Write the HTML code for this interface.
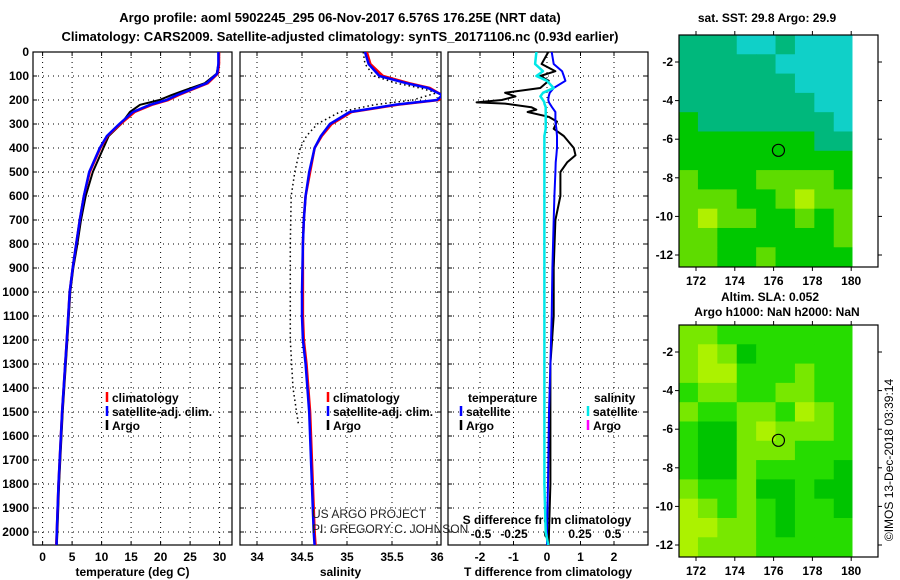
<!DOCTYPE html>
<html><head><meta charset="utf-8">
<style>
html,body{margin:0;padding:0;background:#fff;}
svg{display:block;font-family:"Liberation Sans",sans-serif;}
.t{font-size:12px;font-weight:bold;}
.ti{font-size:13px;font-weight:bold;}
</style></head>
<body>
<svg id="fig" width="900" height="580" viewBox="0 0 900 580">
<text class="ti" x="340" y="22" text-anchor="middle">Argo profile: aoml 5902245_295 06-Nov-2017 6.576S 176.25E (NRT data)</text>
<text class="ti" x="340" y="41" text-anchor="middle">Climatology: CARS2009. Satellite-adjusted climatology: synTS_20171106.nc (0.93d earlier)</text>
<text class="t" x="767" y="22" text-anchor="middle">sat. SST: 29.8 Argo: 29.9</text>
<text class="t" x="770" y="301" text-anchor="middle">Altim. SLA: 0.052</text>
<text class="t" x="777" y="316" text-anchor="middle">Argo h1000: NaN h2000: NaN</text>
<text x="893" y="460" font-size="12" transform="rotate(-90 893 460)" text-anchor="middle">©IMOS 13-Dec-2018 03:39:14</text>
</svg>
<script>
// ---------- data ----------
const depths = [0,50,90,130,160,180,200,220,250,300,350,400,500,600,700,800,900,1000,1200,1500,1800,2000,2055];
const tempClim = [29.9,29.9,29.7,28.0,25.0,23.0,21.3,18.5,15.6,13.2,11.0,9.8,8.0,7.0,6.3,5.7,5.1,4.6,4.1,3.3,2.7,2.4,2.3];
const tempSat  = [29.8,29.8,29.6,27.8,24.8,22.7,21.0,18.2,15.3,13.0,10.9,9.7,7.9,7.0,6.3,5.7,5.1,4.6,4.1,3.3,2.7,2.4,2.35];
const tempArgo = [29.9,29.8,29.5,27.5,24.0,21.8,19.8,16.5,14.8,13.3,11.2,10.3,8.5,7.3,6.5,5.9,5.2,4.7,4.2,3.4,2.8,2.5,2.4];
const salDepths = [0,50,100,130,150,180,200,220,250,300,350,400,500,600,700,800,1000,1100,1200,1300,1400,1500,2000,2055];
const salClim = [35.22,35.26,35.40,35.69,35.92,36.06,36.02,35.56,35.05,34.83,34.72,34.64,34.59,34.54,34.52,34.51,34.51,34.51,34.52,34.55,34.57,34.59,34.64,34.65];
const salSat  = [35.20,35.24,35.36,35.66,35.90,36.06,36.00,35.53,35.03,34.81,34.71,34.64,34.58,34.54,34.52,34.51,34.50,34.50,34.51,34.54,34.56,34.58,34.63,34.64];
const salOldDepths = [0,50,100,130,150,170,200,220,250,300,350,400,500,600,800,1000,1200,1400,1500,1550];
const salOld = [35.18,35.20,35.30,35.55,35.81,36.0,35.73,35.30,34.92,34.67,34.55,34.48,34.42,34.38,34.37,34.37,34.37,34.40,34.44,34.46];
const diffDepths = [0,50,80,100,120,150,170,185,200,210,215,230,240,250,270,290,320,350,400,430,460,500,600,700,900,1100,1300,1500,1800,2000,2055];
const tDiffArgo = [0.04,-0.16,0.25,-0.2,0.05,-0.2,-1.25,-0.94,-1.35,-2.1,-1.25,-0.47,-0.32,-0.58,0.05,0.3,0.2,0.5,0.8,0.85,0.6,0.4,0.4,0.25,0.2,0.2,0.1,0.1,0.1,0.06,0.05];
const tDiffSat  = [0.14,0.2,0.45,0.5,0.55,0.2,0.08,0.05,0.04,0.06,0.08,0.15,0.2,0.25,0.25,0.25,0.28,0.3,0.3,0.28,0.26,0.25,0.22,0.2,0.16,0.14,0.1,0.06,0.03,0.0,0.0];
const sDiffSat  = [-0.08,-0.09,-0.03,-0.08,0.0,0.05,-0.03,-0.05,-0.03,-0.02,-0.02,-0.01,-0.01,-0.01,-0.01,-0.01,-0.01,-0.02,-0.02,-0.02,-0.02,-0.02,-0.02,-0.02,-0.02,-0.02,-0.02,-0.02,-0.02,-0.01,0.01];
const depthTicks = [0,100,200,300,400,500,600,700,800,900,1000,1100,1200,1300,1400,1500,1600,1700,1800,1900,2000];
const tempTicks = [0,5,10,15,20,25,30];
const salTicks = [34,34.5,35,35.5,36];
const tDiffTicks = [-2,-1,0,1,2];
const sDiffTicks = [-0.5,-0.25,0,0.25,0.5];
const lonTicks = [172,174,176,178,180];
const latTicks = [-2,-4,-6,-8,-10,-12];
const sstGrid = [
[1,1,1,0,0,1,0,0,0],
[1,1,1,1,1,0,0,0,0],
[1,1,1,1,1,1,0,0,0],
[1,1,1,1,1,1,1,0,0],
[2,1,1,1,1,1,1,1,0],
[2,2,2,2,2,2,2,1,1],
[2,2,2,2,2,2,2,2,2],
[3,2,2,2,3,3,3,3,2],
[3,3,3,2,2,3,4,3,3],
[3,4,3,3,2,2,3,2,3],
[3,3,2,2,2,2,2,2,3],
[3,3,2,2,3,2,2,2,2],
[4,3,4,2,2,3,3,3,2]];
const slaGrid = [
[2,2,1,1,1,1,1,1,1],
[2,3,2,0,1,1,1,1,1],
[2,3,3,1,1,1,2,1,1],
[1,2,2,1,1,2,2,1,1],
[2,1,1,2,2,1,3,2,1],
[1,0,0,2,3,2,2,2,1],
[1,0,0,2,2,2,1,1,1],
[1,0,0,2,1,1,1,1,0],
[2,1,1,2,0,0,1,0,0],
[3,2,1,2,1,0,1,1,0],
[3,3,2,2,1,0,1,1,1],
[3,2,2,2,1,1,1,1,1],
[3,2,2,2,1,1,1,1,1]];
const sstColors = ['#10d0c8','#00b87c','#00c800','#5edc00','#b0f000'];
const slaColors = ['#00c400','#26dc00','#78e800','#acf200'];
const floatLon = [176.25];
const floatLat = [-6.576];

// ---------- helpers ----------
const svg = document.getElementById('fig');
const NS = 'http://www.w3.org/2000/svg';
function mk(tag, attrs, parent){const e=document.createElementNS(NS,tag);for(const k in attrs)e.setAttribute(k,attrs[k]);(parent||svg).appendChild(e);return e;}
const TOP=52, BOT=545;
const yD = d => TOP + d*0.24;

function panel(x0,x1,xf,ticks,tickFmt,label,name){
  const g = mk('g',{});
  
  
  depthTicks.forEach(d=>{ const l=mk('line',{x1:x0,x2:x1,y1:yD(d),y2:yD(d),stroke:'#000','stroke-width':1,'stroke-dasharray':'1 4'},g);  
    mk('line',{x1:x0,x2:x0+4,y1:yD(d),y2:yD(d),stroke:'#000'},g); mk('line',{x1:x1-4,x2:x1,y1:yD(d),y2:yD(d),stroke:'#000'},g);});
  ticks.forEach(v=>{ const x=xf(v); const l=mk('line',{x1:x,x2:x,y1:TOP,y2:BOT,stroke:'#000','stroke-dasharray':'1 4'},g);  
    mk('line',{x1:x,x2:x,y1:BOT-4,y2:BOT,stroke:'#000'},g); mk('line',{x1:x,x2:x,y1:TOP,y2:TOP+4,stroke:'#000'},g);
    const t=mk('text',{x:x,y:561,'text-anchor':'middle','class':'t'},g); t.textContent=tickFmt(v);
     });
  const r=mk('rect',{x:x0,y:TOP,width:x1-x0,height:BOT-TOP,fill:'none',stroke:'#000','stroke-width':1.2},g);
   
  const tl=mk('text',{x:(x0+x1)/2,y:576,'text-anchor':'middle','class':'t'},g); tl.textContent=label;
   
  return g;
}
function line(xs,ds,xf,color,w,name,dash,clip){
  const pts = xs.map((v,i)=>xf(v).toFixed(1)+','+yD(ds[i]).toFixed(1)).join(' ');
  const p = mk('polyline',{points:pts,fill:'none',stroke:color,'stroke-width':w,'stroke-linejoin':'round'});
  if(dash) p.setAttribute('stroke-dasharray',dash);
  if(clip) p.setAttribute('clip-path',clip);
  
  
}
function legend(x,y,color,label,name){
  mk('line',{x1:x,x2:x,y1:y-10,y2:y,stroke:color,'stroke-width':2.5});
  const t=mk('text',{x:x+5,y:y,'class':'t'}); t.textContent=label;
  
  
}

// clip paths
const defs = mk('defs',{});
[['c1',33,232],['c2',240,441],['c3',448,648]].forEach(([id,a,b])=>{const c=mk('clipPath',{id:id},defs);mk('rect',{x:a,y:TOP,width:b-a,height:BOT-TOP},c);});

// depth axis labels
depthTicks.forEach(d=>{const t=mk('text',{x:29,y:yD(d)+4,'text-anchor':'end','class':'t'}); t.textContent=d;
   });

// Panel 1: temperature
const xT = v => 42.6 + v*5.9;
panel(33,232,xT,tempTicks,v=>v,'temperature (deg C)','temperature-panel');
line(tempArgo,depths,xT,'#000',2,'temp-argo-line',null,'url(#c1)');
line(tempClim,depths,xT,'#ff0000',2.5,'temp-climatology-line',null,'url(#c1)');
line(tempSat,depths,xT,'#0000ff',2.5,'temp-satellite-line',null,'url(#c1)');
legend(107,402,'#ff0000','climatology','legend-climatology');
legend(107,416,'#0000ff','satellite-adj. clim.','legend-satellite');
legend(107,430,'#000','Argo','legend-argo');

// Panel 2: salinity
const xS = v => 257 + (v-34)*90;
panel(240,441,xS,salTicks,v=>v,'salinity','salinity-panel');
line(salOld,salOldDepths,xS,'#000',1.5,'salinity-dotted-line','1.5 3','url(#c2)');
line(salClim,salDepths,xS,'#ff0000',2.5,'sal-climatology-line',null,'url(#c2)');
line(salSat,salDepths,xS,'#0000ff',2.5,'sal-satellite-line',null,'url(#c2)');
legend(328,402,'#ff0000','climatology','legend-sal-climatology');
legend(328,416,'#0000ff','satellite-adj. clim.','legend-sal-satellite');
legend(328,430,'#000','Argo','legend-sal-argo');

// Panel 3: differences
const xTD = v => 547 + v*33.5;
const xSD = v => 547 + v*132;
panel(448,648,xTD,tDiffTicks,v=>v,'T difference from climatology','difference-panel');
sDiffTicks.forEach(v=>{const t=mk('text',{x:xSD(v),y:538,'text-anchor':'middle','class':'t'}); t.textContent=v;
   });
const sdt=mk('text',{x:547,y:524,'text-anchor':'middle','class':'t'}); sdt.textContent='S difference from climatology';
 
line(tDiffArgo,diffDepths,xTD,'#000',2,'tdiff-argo-line',null,'url(#c3)');
line(tDiffSat,diffDepths,xTD,'#0000ff',2,'tdiff-satellite-line',null,'url(#c3)');
line(sDiffSat,diffDepths,xSD,'#00e8e8',2.5,'sdiff-satellite-line',null,'url(#c3)');
const lt=mk('text',{x:468,y:402,'class':'t'}); lt.textContent='temperature';
 
const ls=mk('text',{x:594,y:402,'class':'t'}); ls.textContent='salinity';
 
legend(461,416,'#0000ff','satellite','legend-tdiff-satellite');
legend(461,430,'#000','Argo','legend-tdiff-argo');
legend(588,416,'#00e8e8','satellite','legend-sdiff-satellite');
legend(588,430,'#ff00ff','Argo','legend-sdiff-argo');

// watermark
const w1=mk('text',{x:312,y:518,'font-size':12,fill:'#222'}); w1.textContent='US ARGO PROJECT';
 
const w2=mk('text',{x:312,y:533,'font-size':12,fill:'#222'}); w2.textContent='PI: GREGORY C. JOHNSON';
 

// ---------- maps ----------
function map(top,grid,colors,name){
  const L=679,R=878,B=top+232, lonX=v=>696+(v-172)*19.4, latY=v=>top+27+(-2-v)*19.3;
  const g=mk('g',{});
  
  
  const lon0=171.1, lat0=-0.6, nx=9, ny=grid.length;
  for(let r=0;r<ny;r++)for(let c=0;c<nx;c++){
    const x=lonX(lon0+c), y=latY(lat0-r);
    const xe=Math.min(lonX(lon0+c+1),852), ye=Math.min(latY(lat0-r-1),B);
    const cell=mk('rect',{x:x,y:y,width:xe-x+0.5,height:ye-y+0.5,fill:colors[grid[r][c]]},g);
    
    
  }
  mk('rect',{x:L,y:top,width:R-L,height:B-top,fill:'none',stroke:'#000','stroke-width':1.2},g);
  lonTicks.forEach(v=>{const x=lonX(v); mk('line',{x1:x,x2:x,y1:B,y2:B+4,stroke:'#000'},g); mk('line',{x1:x,x2:x,y1:top-4,y2:top,stroke:'#000'},g);
    const t=mk('text',{x:x,y:B+18,'text-anchor':'middle','class':'t'},g); t.textContent=v;
     });
  latTicks.forEach(v=>{const y=latY(v); mk('line',{x1:L-4,x2:L,y1:y,y2:y,stroke:'#000'},g); mk('line',{x1:R,x2:R+4,y1:y,y2:y,stroke:'#000'},g);
    const t=mk('text',{x:L-6,y:y+4,'text-anchor':'end','class':'t'},g); t.textContent=v;
     });
  const c=mk('circle',{cx:lonX(floatLon[0]),cy:latY(floatLat[0]),r:6,fill:'none',stroke:'#000','stroke-width':1.2},g);
  
  
}
map(35,sstGrid,sstColors,'sst-map');
map(325,slaGrid,slaColors,'sla-map');
</script>
</body></html>
